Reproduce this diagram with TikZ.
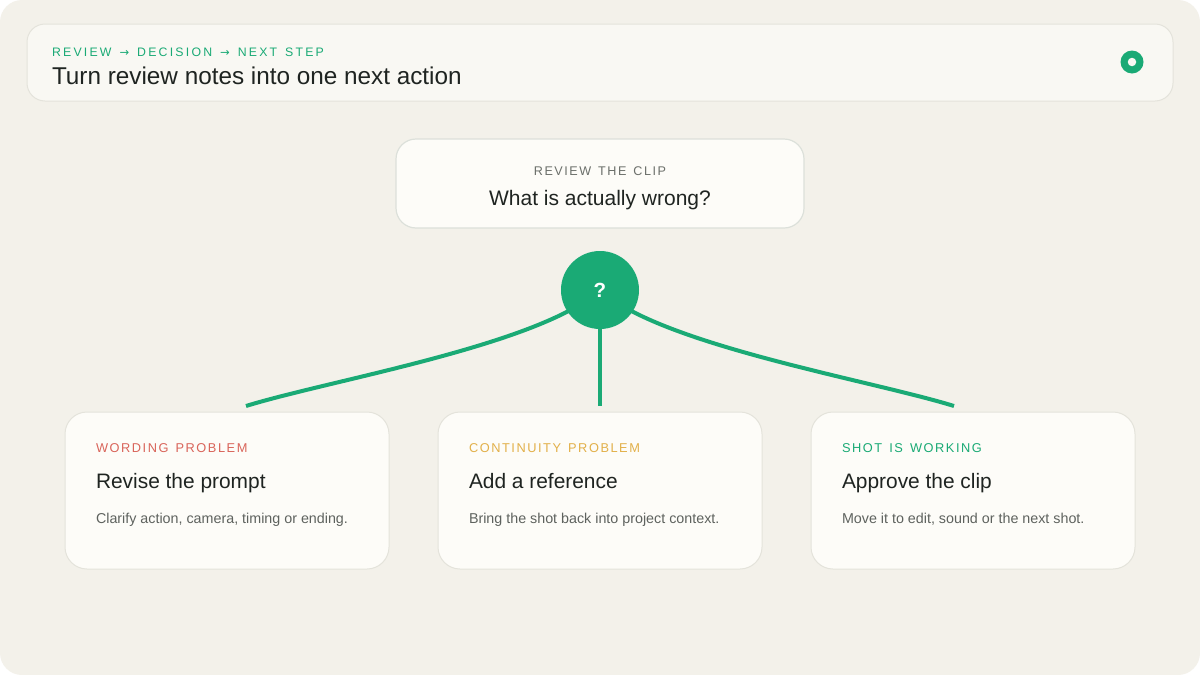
\documentclass[tikz,border=0pt]{standalone}
\usepackage{fontspec}
\setmainfont{Liberation Sans}
\newfontfamily\trk[LetterSpace=12, WordSpace=1.4]{Liberation Sans}
\newfontfamily\trkk[LetterSpace=18, WordSpace=1.4]{Liberation Sans}
\newfontfamily\arrowfont{DejaVu Sans}
\usetikzlibrary{backgrounds}
\definecolor{bgc}{HTML}{F3F1EA}
\definecolor{cardc}{HTML}{FDFCF8}
\definecolor{headc}{HTML}{F9F8F3}
\definecolor{edgec}{HTML}{E4E3DB}
\definecolor{topedge}{HTML}{DCE0DA}
\definecolor{grn}{HTML}{1AAA75}
\definecolor{redl}{HTML}{D9645A}
\definecolor{yell}{HTML}{E2B04A}
\definecolor{inkc}{HTML}{1F2421}
\definecolor{grayl}{HTML}{6B6F6A}
\definecolor{bodyc}{HTML}{5E625E}
\newcommand{\arr}{\hspace{8pt}{\arrowfont\fontsize{11.5}{12}\selectfont→}\hspace{8pt}}
\tikzset{
  panel/.style={draw=edgec, line width=1pt, fill=cardc, inner sep=0pt, outer sep=0pt, rounded corners=22pt, minimum width=324pt, minimum height=157pt},
  txt/.style={anchor=base west, inner sep=0pt, outer sep=0pt},
  txtc/.style={anchor=base, inner sep=0pt, outer sep=0pt},
  tag/.style={txt, font=\trk\fontsize{12.8}{15}\selectfont},
  ttl/.style={txt, font=\fontsize{20.9}{24}\selectfont, text=inkc},
  body/.style={txt, font=\fontsize{14.3}{17}\selectfont, text=bodyc},
  link/.style={draw=grn, line width=4pt}
}
\begin{document}
\begin{tikzpicture}[x=1pt, y=-1pt]
\useasboundingbox (0,0) rectangle (1200,675);
% header
\node[draw=edgec, line width=1pt, fill=headc, rounded corners=18pt, minimum width=1146pt, minimum height=77pt, inner sep=0pt] (head) at (600,62.5) {};
\node[txt, text=grn, font=\trkk\fontsize{12.3}{14}\selectfont] (kicker) at (52,56) {REVIEW\arr DECISION\arr NEXT STEP};
\node[txt, text=inkc, font=\fontsize{24.3}{28}\selectfont] (htitle) at (52,84) {Turn review notes into one next action};
\node[circle, fill=grn, minimum size=23pt, inner sep=0pt] (dot) at (1132,62) {};
\node[circle, fill=headc, minimum size=8.5pt, inner sep=0pt] (dothole) at (dot.center) {};
% top card
\node[draw=topedge, line width=1.2pt, fill=cardc, rounded corners=20pt, minimum width=408pt, minimum height=89pt, inner sep=0pt] (top) at (600,183.5) {};
\node[txtc, text=grayl, font=\trk\fontsize{12.6}{15}\selectfont] (toptag) at (600,175) {REVIEW THE CLIP};
\node[txtc, text=inkc, font=\fontsize{21}{25}\selectfont] (topq) at (600,205) {What is actually wrong?};
% decision circle
\node[circle, fill=grn, minimum size=78pt, inner sep=0pt, text=white, font=\bfseries\fontsize{20.5}{24}\selectfont] (q) at (600,290) {?};
% cards
\node[panel] (c1) at (227,490.5) {};
\node[panel] (c2) at (600,490.5) {};
\node[panel] (c3) at (973,490.5) {};
\node[tag, text=redl] (t1) at (96,452) {WORDING PROBLEM};
\node[ttl] (h1) at (96,488) {Revise the prompt};
\node[body] (b1) at (96,523.5) {Clarify action, camera, timing or ending.};
\node[tag, text=yell] (t2) at (469,452) {CONTINUITY PROBLEM};
\node[ttl] (h2) at (469,488) {Add a reference};
\node[body] (b2) at (469,523.5) {Bring the shot back into project context.};
\node[tag, text=grn] (t3) at (842,452) {SHOT IS WORKING};
\node[ttl] (h3) at (842,488) {Approve the clip};
\node[body] (b3) at (842,523.5) {Move it to edit, sound or the next shot.};
\coordinate (e1) at (246,406);
\coordinate (e2) at (600,406);
\coordinate (e3) at (954,406);
\begin{scope}[on background layer]
  \fill[white] (0,0) rectangle (1200,675);
  \fill[bgc, rounded corners=22pt] (0,0) rectangle (1200,675);
  \draw[link] (q.center) .. controls (540,345) and (330,380) .. (e1);
  \draw[link] (q.center) -- (e2);
  \draw[link] (q.center) .. controls (660,345) and (870,380) .. (e3);
\end{scope}
\end{tikzpicture}
\end{document}
